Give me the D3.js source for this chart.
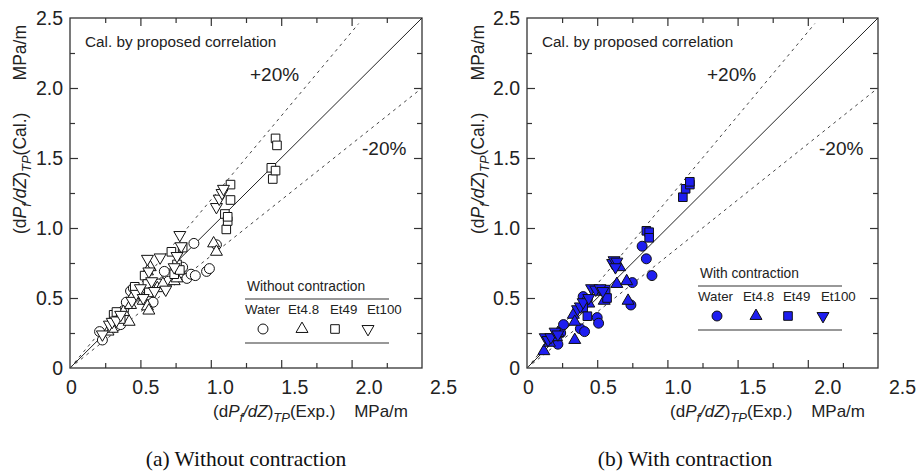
<!DOCTYPE html>
<html lang="en">
<head>
<meta charset="UTF-8">
<title>Calculated vs experimental frictional pressure gradient</title>
<script src="https://d3js.org/d3.v7.min.js"></script>
<style>
  body { margin: 0; background: #fff; }
  svg { display: block; font-family: "Liberation Sans", Arial, sans-serif; }
</style>
</head>
<body>
<svg id="chart" width="916" height="471"></svg>
<script>
// ---- data (MPa/m), [exp, cal]
const seriesNames = ["Water", "Et4.8", "Et49", "Et100"];
const majorTicks = [0.5, 1, 1.5, 2];
const minorTicks = [0.25, 0.75, 1.25, 1.75, 2.25];
const labelTicks = [0, 0.5, 1, 1.5, 2, 2.5];
const labelText = ["0", "0.5", "1.0", "1.5", "2.0", "2.5"];

const withoutWater = [[0.21,0.26],[0.23,0.20],[0.33,0.30],[0.36,0.31],[0.38,0.41],[0.40,0.47],[0.43,0.55],[0.45,0.57],[0.55,0.52],[0.59,0.47],[0.63,0.60],[0.67,0.69],[0.70,0.62],[0.78,0.68],[0.80,0.72],[0.83,0.64],[0.86,0.67],[0.89,0.66],[0.88,0.89],[0.97,0.69],[0.99,0.71],[1.04,0.88]];
const withoutEt48 = [[0.27,0.26],[0.30,0.28],[0.33,0.36],[0.38,0.40],[0.42,0.33],[0.43,0.45],[0.45,0.52],[0.52,0.48],[0.55,0.44],[0.56,0.41],[0.57,0.72],[0.55,0.69],[0.62,0.57],[0.66,0.60],[0.74,0.62],[0.76,0.64],[1.02,0.89],[1.04,0.83]];
const withoutEt49 = [[0.31,0.38],[0.33,0.40],[0.36,0.35],[0.46,0.58],[0.53,0.66],[0.55,0.60],[0.56,0.54],[0.72,0.83],[0.74,0.67],[0.76,0.74],[0.78,0.70],[0.80,0.86],[1.10,1.10],[1.11,0.99],[1.12,1.05],[1.12,1.08],[1.14,1.20],[1.14,1.31],[1.43,1.43],[1.44,1.35],[1.46,1.41],[1.46,1.64],[1.47,1.59]];
const withoutEt100 = [[0.23,0.24],[0.28,0.31],[0.30,0.33],[0.33,0.34],[0.36,0.38],[0.44,0.48],[0.47,0.53],[0.50,0.57],[0.52,0.50],[0.55,0.78],[0.56,0.69],[0.58,0.62],[0.60,0.55],[0.64,0.79],[0.68,0.56],[0.74,0.72],[0.76,0.80],[0.78,0.95],[0.79,0.87],[1.04,1.15],[1.06,1.21],[1.08,1.25],[1.09,1.28]];

const withWater = [[0.20,0.20],[0.22,0.17],[0.24,0.25],[0.26,0.31],[0.38,0.28],[0.41,0.26],[0.40,0.51],[0.43,0.49],[0.50,0.36],[0.51,0.32],[0.74,0.45],[0.75,0.61],[0.82,0.87],[0.85,0.78],[0.89,0.66]];
const withEt48 = [[0.12,0.12],[0.16,0.18],[0.21,0.22],[0.22,0.25],[0.33,0.38],[0.34,0.33],[0.34,0.20],[0.44,0.46],[0.55,0.48],[0.64,0.60],[0.66,0.72],[0.71,0.62],[0.72,0.48]];
const withEt49 = [[0.40,0.43],[0.43,0.37],[0.53,0.55],[0.56,0.56],[0.57,0.50],[0.85,0.98],[0.87,0.97],[0.87,0.93],[1.11,1.22],[1.13,1.28],[1.16,1.31],[1.16,1.33]];
const withEt100 = [[0.13,0.22],[0.15,0.20],[0.17,0.22],[0.20,0.26],[0.22,0.24],[0.36,0.42],[0.38,0.44],[0.40,0.47],[0.44,0.50],[0.46,0.57],[0.49,0.56],[0.52,0.57],[0.54,0.55],[0.61,0.75],[0.62,0.77],[0.64,0.76],[0.63,0.72]];

// reference lines y = k*x
const refSlopes = [1, 1.2, 0.8];
const refEnds = [2.5, 2.05, 2.5];

const svg = d3.select("#chart");
const ink = "#222";
const blue = "#1e1ef0";

const symbolTypes = [d3.symbolCircle, d3.symbolTriangle, d3.symbolSquare, d3.symbolTriangle];
const symbolSizes = [78, 62, 74, 62];
const symbolRot = [0, 0, 0, 180];

function rich(text, parts) {
    let low = false;
    parts.forEach(p => {
        const ts = text.append("tspan").text(p.t);
        if (p.i) ts.attr("font-style", "italic");
        if (p.s) {
            ts.attr("font-size", 13);
            if (!low) { ts.attr("dy", 5); low = true; }
        } else if (low) {
            ts.attr("dy", -5); low = false;
        }
    });
}

function labelParts(last) {
    return [{t: "(d"}, {t: "P", i: 1}, {t: "f", i: 1, s: 1}, {t: "/dZ", i: 1}, {t: ")"},
            {t: "TP", i: 1, s: 1}, {t: last}];
}

function panel(cfg) {
    const x = d3.scaleLinear().domain([0, 2.5]).range([cfg.left, cfg.right]);
    const y = d3.scaleLinear().domain([0, 2.5]).range([368, 18]);
    const xLab = d3.scaleLinear().domain([0, 2.5]).range(cfg.labelRange);
    const g = svg.append("g");

    // inward ticks on all four sides
    const sides = [
        [d3.axisBottom(x), `translate(0,${y(0)})`],
        [d3.axisTop(x), `translate(0,${y(2.5)})`],
        [d3.axisLeft(y), `translate(${x(0)},0)`],
        [d3.axisRight(y), `translate(${x(2.5)},0)`]
    ];
    sides.forEach(([ax, tr]) => {
        [[majorTicks, 8], [minorTicks, 5]].forEach(([vals, len]) => {
            const a = g.append("g").attr("transform", tr)
                .call(ax.tickValues(vals).tickSize(-len).tickFormat("").tickSizeOuter(0));
            a.select(".domain").remove();
            a.selectAll("line").attr("stroke", "#333").attr("stroke-width", 1.2);
        });
    });

    g.append("rect")
        .attr("x", x(0)).attr("y", y(2.5))
        .attr("width", x(2.5) - x(0)).attr("height", y(0) - y(2.5))
        .attr("fill", "none").attr("stroke", "#333").attr("stroke-width", 1.3);

    // tick labels
    const bx = g.append("g").attr("transform", `translate(0,${y(0)})`)
        .call(d3.axisBottom(xLab).tickValues(labelTicks).tickSize(0).tickPadding(12)
            .tickFormat((d, i) => labelText[i]));
    bx.select(".domain").remove();
    bx.selectAll("text").attr("font-size", 19.5).attr("font-family", null).attr("fill", ink);

    const ly = g.append("g").attr("transform", `translate(${x(0)},0)`)
        .call(d3.axisLeft(y).tickValues(labelTicks).tickSize(0).tickPadding(7)
            .tickFormat((d, i) => labelText[i]));
    ly.select(".domain").remove();
    ly.selectAll("text").attr("font-size", 19.5).attr("font-family", null).attr("fill", ink);

    // reference lines
    const line = d3.line().x(d => x(d[0])).y(d => y(d[1]));
    refSlopes.forEach((k, i) => {
        g.append("path")
            .attr("d", line([[0, 0], [refEnds[i], k * refEnds[i]]]))
            .attr("fill", "none")
            .attr("stroke", i === 0 ? "#222" : "#444")
            .attr("stroke-width", 1)
            .attr("stroke-dasharray", i === 0 ? null : "3,4");
    });

    // data
    cfg.series.forEach((data, si) => {
        const sym = d3.symbol().type(symbolTypes[si]).size(symbolSizes[si]);
        g.append("g").selectAll("path")
            .data(data)
            .join("path")
            .attr("d", sym)
            .attr("transform", d => `translate(${x(d[0])},${y(d[1])}) rotate(${symbolRot[si]})`)
            .attr("fill", cfg.fill)
            .attr("stroke", "#111")
            .attr("stroke-width", 1);
    });

    // annotations
    g.append("text").attr("x", cfg.left + 15).attr("y", 47)
        .attr("font-size", 15.3).attr("fill", ink).text("Cal. by proposed correlation");
    g.append("text").attr("x", cfg.left + 180).attr("y", 81)
        .attr("font-size", 19).attr("fill", ink).text("+20%");
    g.append("text").attr("x", cfg.left + 292).attr("y", 155)
        .attr("font-size", 19).attr("fill", ink).text("-20%");

    // axis titles
    const xt = g.append("text").attr("x", cfg.left + 143).attr("y", 417)
        .attr("font-size", 17).attr("fill", ink);
    rich(xt, labelParts("(Exp.)"));
    g.append("text").attr("x", cfg.left + 338).attr("y", 417).attr("text-anchor", "end")
        .attr("font-size", 17).attr("fill", ink).text("MPa/m");

    const yt = g.append("text").attr("transform", `translate(${cfg.ylabX},234) rotate(-90)`)
        .attr("font-size", 17.5).attr("fill", ink);
    rich(yt, labelParts("(Cal.)"));
    g.append("text").attr("transform", `translate(${cfg.ylabX},25) rotate(-90)`)
        .attr("text-anchor", "end").attr("font-size", 17.5).attr("fill", ink).text("MPa/m");

    // legend
    const L = cfg.legend;
    g.append("text").attr("x", L.x + 2).attr("y", L.y)
        .attr("font-size", 13.8).attr("fill", ink).text(cfg.legendTitle);
    [L.y + 8, L.y + 52].forEach(yy => {
        g.append("line").attr("x1", L.x).attr("x2", L.x + 144)
            .attr("y1", yy).attr("y2", yy).attr("stroke", "#333").attr("stroke-width", 1.1);
    });
    seriesNames.forEach((name, si) => {
        g.append("text").attr("x", L.x + L.labelDx[si]).attr("y", L.y + 23)
            .attr("font-size", 13.3).attr("fill", ink).text(name);
        g.append("path")
            .attr("d", d3.symbol().type(symbolTypes[si]).size(symbolSizes[si])())
            .attr("transform", `translate(${L.x + L.symDx[si]},${L.y + 38}) rotate(${symbolRot[si]})`)
            .attr("fill", cfg.fill).attr("stroke", "#111").attr("stroke-width", 1);
    });

    g.append("text").attr("x", cfg.captionX).attr("y", 466)
        .attr("text-anchor", "middle")
        .attr("font-family", "'Liberation Serif', 'Times New Roman', serif")
        .attr("font-size", 21.5).attr("fill", "#111").text(cfg.caption);
}

panel({
    left: 70, right: 422, labelRange: [71, 443], ylabX: 26, fill: "#fff",
    series: [withoutWater, withoutEt48, withoutEt49, withoutEt100],
    legendTitle: "Without contraction",
    legend: {x: 245, y: 291, labelDx: [0, 43, 85, 122], symDx: [18, 57, 90, 123]},
    caption: "(a) Without contraction", captionX: 246
});

panel({
    left: 527, right: 878, labelRange: [528, 902], ylabX: 484, fill: blue,
    series: [withWater, withEt48, withEt49, withEt100],
    legendTitle: "With contraction",
    legend: {x: 698, y: 278, labelDx: [0, 45, 85, 123], symDx: [19, 58, 90, 125]},
    caption: "(b) With contraction", captionX: 685
});
</script>
</body>
</html>
